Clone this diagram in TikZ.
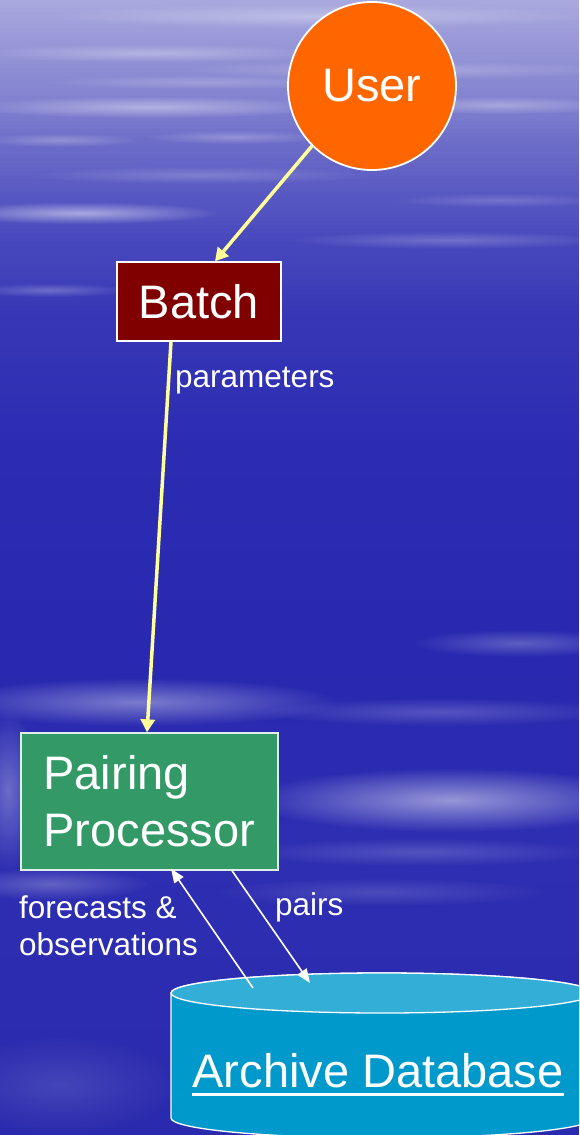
\documentclass[tikz,border=0pt]{standalone}
\usepackage{fontspec}
\setmainfont{Liberation Sans}
\usetikzlibrary{arrows.meta,fadings,calc}
\definecolor{bgA}{HTML}{A8A8DE}
\definecolor{bgB}{HTML}{8282D0}
\definecolor{bgC}{HTML}{6A6AC8}
\definecolor{bgD}{HTML}{5656C2}
\definecolor{bgE}{HTML}{4646BC}
\definecolor{bgF}{HTML}{3636B6}
\definecolor{bgG}{HTML}{2C2CB3}
\definecolor{bgH}{HTML}{2828B0}
\definecolor{bgI}{HTML}{2E2EB2}
\definecolor{bgJ}{HTML}{2A2AAE}
\definecolor{userfill}{HTML}{FF6600}
\definecolor{batchfill}{HTML}{800000}
\definecolor{pairfill}{HTML}{339966}
\definecolor{dbbody}{HTML}{0099CC}
\definecolor{dbtop}{HTML}{33AED6}
\definecolor{flowyellow}{HTML}{FFFF99}
\tikzfading[name=softblob, inner color=transparent!0, outer color=transparent!100]
\newcommand{\bgstreak}[5]{%
  \fill[white, opacity=#5, path fading=softblob] (#1,#2) ellipse [x radius=#3, y radius=#4];}
% band of n strips from y=#1 to y=#2, colour #4 -> #5
\newcommand{\bgband}[5]{%
  \foreach \k in {0,...,\numexpr#3-1\relax}{%
    \pgfmathsetmacro{\bgp}{100*\k/(#3-1)}%
    \pgfmathsetmacro{\bgya}{#1+(#2-#1)*\k/#3}%
    \pgfmathsetmacro{\bgyb}{#1+(#2-#1)*(\k+1)/#3+0.6}%
    \fill[#5!\bgp!#4] (0,\bgya) rectangle (579,\bgyb);}}
\tikzset{
  bigtext/.style={font=\fontsize{47}{57}\selectfont, text=white},
  smalltext/.style={font=\fontsize{31.5}{37}\selectfont, text=white},
  yflow/.style={draw=flowyellow, line width=3.5pt, -{Triangle[length=13pt,width=14pt]}},
  wflow/.style={draw=white, line width=1.6pt, -{Triangle[length=14pt,width=11pt]}},
  usernode/.style={circle, fill=userfill, draw=white, line width=1.8pt, minimum size=168pt, inner sep=0pt, bigtext},
  batchnode/.style={rectangle, fill=batchfill, draw=white, line width=1.3pt, minimum width=164pt, minimum height=79pt, inner sep=0pt, bigtext},
  pairnode/.style={rectangle, fill=pairfill, draw=white!85!pairfill, line width=1.3pt, minimum width=257pt, minimum height=137pt, inner xsep=22.5pt, inner ysep=0pt, text width=212pt, align=left, bigtext},
}
\begin{document}
\begin{tikzpicture}[x=1pt,y=-1pt]
\useasboundingbox (0,0) rectangle (579,1135);
\clip (0,0) rectangle (579,1135);
% background gradient
\bgband{0}{100}{25}{bgA}{bgB}
\bgband{100}{150}{12}{bgB}{bgC}
\bgband{150}{200}{12}{bgC}{bgD}
\bgband{200}{250}{12}{bgD}{bgE}
\bgband{250}{320}{14}{bgE}{bgF}
\bgband{320}{450}{14}{bgF}{bgG}
\bgband{450}{650}{8}{bgG}{bgH}
\bgband{650}{850}{8}{bgH}{bgI}
\bgband{850}{1135}{8}{bgI}{bgJ}
% streaks
\bgstreak{320}{16}{280}{12}{.3}
\bgstreak{150}{53}{180}{9}{.3}
\bgstreak{400}{70}{220}{9}{.25}
\bgstreak{200}{82}{160}{7}{.2}
\bgstreak{150}{107}{180}{11}{.4}
\bgstreak{500}{105}{120}{9}{.3}
\bgstreak{235}{137}{90}{7}{.25}
\bgstreak{60}{140}{80}{7}{.25}
\bgstreak{200}{175}{170}{9}{.2}
\bgstreak{80}{213}{140}{11}{.5}
\bgstreak{500}{200}{110}{7}{.18}
\bgstreak{450}{240}{160}{9}{.22}
\bgstreak{50}{290}{80}{7}{.25}
\bgstreak{520}{643}{110}{14}{.25}
\bgstreak{140}{702}{200}{24}{.38}
\bgstreak{440}{712}{180}{14}{.2}
\bgstreak{450}{800}{200}{32}{.5}
\bgstreak{420}{852}{180}{14}{.18}
\bgstreak{8}{790}{30}{80}{.3}
\bgstreak{50}{884}{100}{16}{.25}
\bgstreak{380}{892}{170}{14}{.15}
\bgstreak{60}{1085}{120}{50}{.12}
% cylinder
\fill[dbbody, draw=white, line width=1.3pt]
  (171,993) -- (171,1118) arc[start angle=180, end angle=360, x radius=211, y radius=-20]
  -- (593,993) arc[start angle=0, end angle=180, x radius=211, y radius=-20] -- cycle;
\fill[dbtop, draw=white, line width=1.3pt] (382,993) ellipse [x radius=211, y radius=20];
\node[bigtext, inner sep=0pt, anchor=base] (db) at (378,1087) {Archive Database};
\draw[white, line width=3pt] ([yshift=-7pt]db.base west) -- ([yshift=-7pt]db.base east);
\coordinate (dbA) at (253,988);
\coordinate (dbB) at (310,983);
% nodes
\node[usernode] (user) at (372,86) {User};
\node[batchnode] (batch) at (199,301.5) {Batch};
\node[pairnode] (pair) at (149.5,801.5) {Pairing\\Processor};
% connectors
\draw[yflow] (user.225) -- ([xshift=16pt]batch.north);
\draw[yflow] ([xshift=-28pt]batch.south) -- ([xshift=-2.5pt]pair.north);
\node[smalltext, inner sep=0pt, anchor=base west] (lparam) at (175,387) {parameters};
\draw[wflow] (dbA) -- ([xshift=21.5pt,yshift=2pt]pair.south);
\draw[wflow] ([xshift=82.5pt]pair.south) -- (dbB);
\node[smalltext, inner sep=0pt, anchor=base west, align=left] (lfore) at (19,955) {forecasts \&\\observations};
\node[smalltext, inner sep=0pt, anchor=base west] (lpairs) at (275,915) {pairs};
\end{tikzpicture}
\end{document}
